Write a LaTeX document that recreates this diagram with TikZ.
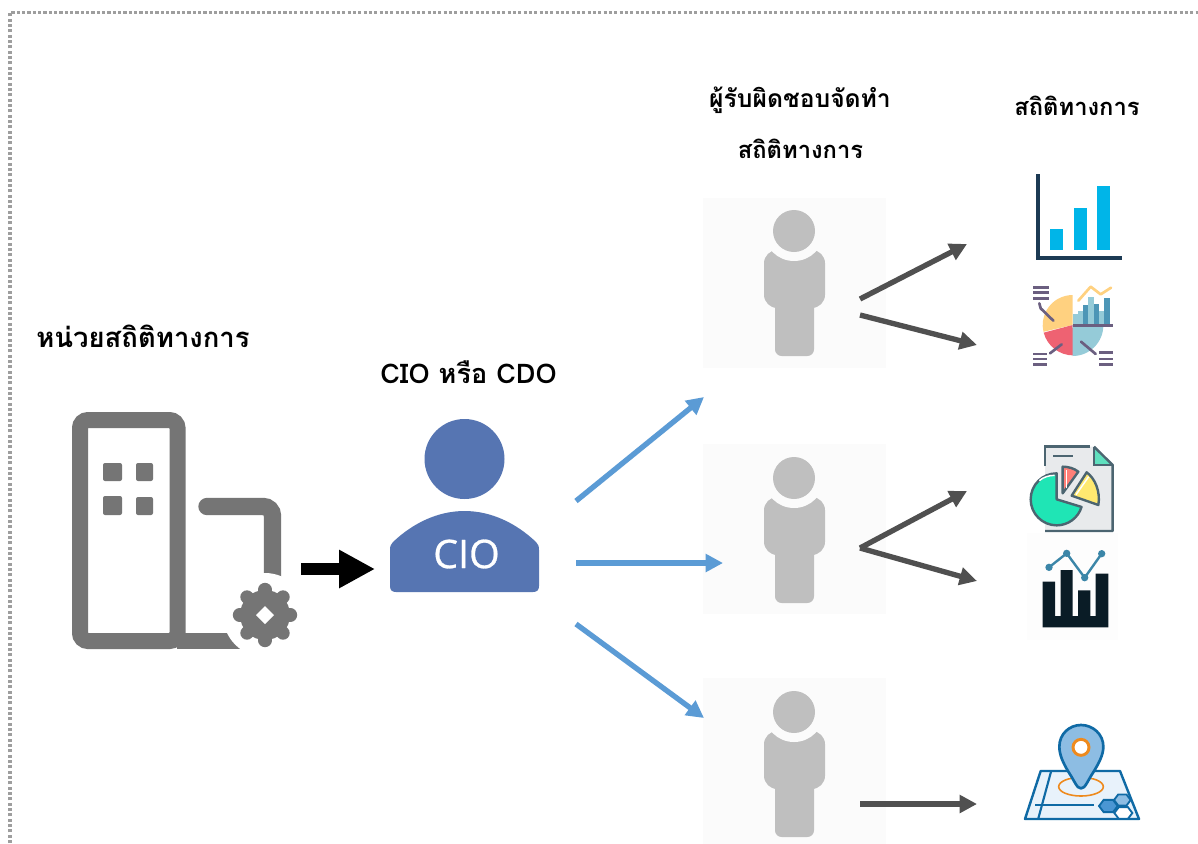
\documentclass[tikz,border=0pt]{standalone}
\usepackage{fontspec}
\setmainfont{Liberation Sans}
\newfontfamily\thaifont[Script=Thai]{Loma}
\newfontfamily\ciofont[FakeBold=0.7]{Open Sans}
\usetikzlibrary{arrows.meta}
\definecolor{gbar}{HTML}{757575}
\definecolor{ciob}{HTML}{5675B2}
\definecolor{pgray}{HTML}{BFBFBF}
\definecolor{pbg}{HTML}{FBFBFB}
\definecolor{bluea}{HTML}{5B9BD5}
\definecolor{darka}{HTML}{505050}
\definecolor{navy}{HTML}{1C3A54}
\definecolor{cyanb}{HTML}{00B5E8}
\definecolor{porange}{HTML}{FFD180}
\definecolor{pred}{HTML}{EE6272}
\definecolor{pblue}{HTML}{95CBD8}
\definecolor{pdeep}{HTML}{4D96B6}
\definecolor{ppurple}{HTML}{6B5F80}
\definecolor{dstroke}{HTML}{4C6571}
\definecolor{dpaper}{HTML}{E8EAEC}
\definecolor{dgreen}{HTML}{1FE5B5}
\definecolor{dfold}{HTML}{5FE0BE}
\definecolor{dred}{HTML}{FF7F78}
\definecolor{dyellow}{HTML}{FFE970}
\definecolor{bink}{HTML}{0A1C26}
\definecolor{bline}{HTML}{3B86A8}
\definecolor{mapline}{HTML}{0F6AA5}
\definecolor{mapfill}{HTML}{E8F2FB}
\definecolor{pinfill}{HTML}{8DBDE3}
\definecolor{hexa}{HTML}{4A96D3}
\definecolor{ringo}{HTML}{EE8A1D}
\tikzset{
  thailabel/.style={font=\thaifont\bfseries\fontsize{#1}{24pt}\selectfont,inner sep=0pt,anchor=center},
  bluearrow/.style={draw=bluea,line width=4pt,-{Triangle[length=13pt,width=13pt]}},
  darkarrow/.style={draw=darka,line width=4pt,-{Triangle[length=13pt,width=13pt]}},
  blockarrow/.style={draw=black,line width=9pt,-{Triangle[length=27pt,width=27pt]}},
  personbg/.style={fill=pbg,draw=none,inner sep=0pt,minimum width=137.25pt,minimum height=127.5pt},
  iconline/.style={line cap=round,line join=round}
}
\newcommand{\personfig}[1]{%
  \begin{scope}[shift={(0,#1)}]
    \fill[pgray,rounded corners=10pt] (764,250) rectangle (825,308);
    \fill[pgray,rounded corners=5pt] (775,290) rectangle (814,356);
    \fill[pbg] (794,231) circle[radius=30];
    \fill[pgray] (794,231) circle[radius=21];
  \end{scope}}
\newcommand{\hexshape}[3]{({#1-#3},#2) -- ({#1-#3/2},{#2-#3*.66}) -- ({#1+#3/2},{#2-#3*.66}) -- ({#1+#3},#2) -- ({#1+#3/2},{#2+#3*.66}) -- ({#1-#3/2},{#2+#3*.66}) -- cycle}
\begin{document}
\begin{tikzpicture}[x=.75pt,y=-.75pt]
\useasboundingbox (0,0) rectangle (1198,843);
\clip (0,0) rectangle (1198,843);
\fill[white] (0,0) rectangle (1198,843);
% dotted frame
\coordinate (fa) at (10,843);
\coordinate (fb) at (10,12.5);
\coordinate (fc) at (1198,12.5);
\draw[color=black!38,line width=2.4pt,dash pattern=on 2.3pt off 1.7pt] (fa) -- (fb) -- (fc);
% labels
\node[thailabel=20.6pt] (lagency) at (143,336) {หน่วยสถิติทางการ};
\node[thailabel=20.3pt] (lcio) at (468.5,372) {CIO หรือ CDO};
\node[thailabel=18.5pt] (lresp1) at (800,100) {ผู้รับผิดชอบจัดทำ};
\node[thailabel=17.8pt] (lresp2) at (800.5,149) {สถิติทางการ};
\node[thailabel=17.8pt] (lstats) at (1077,106) {สถิติทางการ};
% building
\draw[gbar,line width=12pt,rounded corners=6pt] (80,420) rectangle (177.5,641);
\draw[gbar,line width=12pt] (177,641) -- (245,641);
\draw[gbar,line width=13pt,line cap=round,rounded corners=7pt] (207,506.5) -- (272.5,506.5) -- (272.5,590);
\fill[gbar,rounded corners=1.5pt] (103,463) rectangle (122,481);
\fill[gbar,rounded corners=1.5pt] (136,463) rectangle (153,481);
\fill[gbar,rounded corners=1.5pt] (103,496) rectangle (122,515);
\fill[gbar,rounded corners=1.5pt] (136,497) rectangle (153,515);
\fill[white] (265,615) circle[radius=42];
\fill[gbar] (265,615) circle[radius=25];
\foreach \a in {0,45,...,315} \draw[gbar,line width=10pt,line cap=round] (265,615) -- ++(\a:25.5);
\fill[white] (265,606) -- (274,615) -- (265,624) -- (256,615) -- cycle;
% CIO person
\fill[ciob] (464.5,459) circle[radius=40];
\fill[ciob] (396,592) .. controls (392,592) and (390,590) .. (390,586) -- (390,550) .. controls (390,546) and (391,544) .. (393,542) .. controls (413,523) and (438,511) .. (464.5,511) .. controls (491,511) and (516,523) .. (536,542) .. controls (538,544) and (539,546) .. (539,550) -- (539,586) .. controls (539,590) and (537,592) .. (533,592) -- cycle;
\node[text=white,font=\ciofont\fontsize{29.5pt}{32pt}\selectfont,inner sep=0pt] (ciotxt) at (466.5,554) {CIO};
% staff
\node[personbg] (p1) at (794.5,282.5) {};
\node[personbg] (p2) at (794.5,529) {};
\node[personbg] (p3) at (794.5,763) {};
\personfig{0}
\personfig{247}
\personfig{481}
% connectors
\coordinate (bs) at (301,569); \coordinate (be) at (375,569);
\draw[blockarrow] (bs) -- (be);
\coordinate (c0) at (576,501); \coordinate (c1) at (704,397);
\coordinate (c2) at (576,563); \coordinate (c3) at (723,563);
\coordinate (c4) at (576,624); \coordinate (c5) at (704,718);
\draw[bluearrow] (c0) -- (c1);
\draw[bluearrow] (c2) -- (c3);
\draw[bluearrow] (c4) -- (c5);
\coordinate (d0) at (860,299); \coordinate (d1) at (967,244);
\coordinate (d2) at (860,315); \coordinate (d3) at (977,345);
\coordinate (d4) at (860,548); \coordinate (d5) at (967,491);
\coordinate (d6) at (860,548); \coordinate (d7) at (977,581);
\coordinate (d8) at (860,804); \coordinate (d9) at (977,804);
\draw[darkarrow] (d0) -- (d1);
\draw[darkarrow] (d2) -- (d3);
\draw[darkarrow] (d4) -- (d5);
\draw[darkarrow] (d6) -- (d7);
\draw[darkarrow] (d8) -- (d9);
% icon 1: bars
\fill[navy] (1036,174) rectangle (1040,260);
\fill[navy] (1036,255.5) rectangle (1122,260);
\fill[cyanb] (1050,229) rectangle (1063,250);
\fill[cyanb] (1074,208) rectangle (1087,250);
\fill[cyanb] (1097,186) rectangle (1110,250);
% icon 2: pie and bars
\begin{scope}[shift={(1000,160)},x=.25pt,y=-.25pt]
  \fill[porange] (218,495) -- (218,405) arc[start angle=270,end angle=167,radius=90] -- cycle;
  \fill[pred] (218,495) -- (131,518) arc[start angle=165,end angle=90,radius=92] -- cycle;
  \fill[pblue] (218,495) -- (218,588) arc[start angle=90,end angle=0,radius=92] -- cycle;
  \fill[pblue] (220,462) rectangle (235,495);
  \fill[pblue] (235,452) rectangle (250,495);
  \fill[pdeep] (250,436) rectangle (265,495);
  \fill[pblue] (265,412) rectangle (282,495);
  \fill[pdeep] (282,432) rectangle (297,495);
  \fill[pblue] (297,452) rectangle (312,495);
  \fill[pdeep] (313,414) rectangle (330,495);
  \draw[porange,line width=2pt,iconline] (235,422) -- (272,380) -- (302,403) -- (333,383);
  \draw[ppurple,line width=2pt] (218,497) -- (338,497);
  \draw[ppurple,line width=2pt] (100,382) -- (148,382) (100,398) -- (148,398) (100,415) -- (148,415);
  \draw[ppurple,line width=2pt] (100,582) -- (140,582) (100,597) -- (140,597) (100,613) -- (140,613);
  \draw[ppurple,line width=2pt] (298,578) -- (338,578) (298,597) -- (338,597) (298,613) -- (338,613);
  \draw[ppurple,line width=2pt,iconline] (118,430) -- (122,445) -- (160,482);
  \draw[ppurple,line width=2pt,iconline] (150,580) -- (185,553);
  \draw[ppurple,line width=2pt,iconline] (243,545) -- (287,582);
\end{scope}
% icon 3: document with pie
\begin{scope}[shift={(1000,430)},x=.25pt,y=-.25pt]
  \fill[dpaper] (135,50) -- (282,50) -- (338,105) -- (338,303) -- (135,303) -- cycle;
  \fill[dfold] (282,50) -- (338,105) -- (282,105) -- cycle;
  \draw[dstroke,line width=1.8pt] (135,108) -- (135,50) -- (270,50);
  \draw[dstroke,line width=1.8pt,line join=round] (282,50) -- (338,105) -- (338,303) -- (135,303);
  \draw[dstroke,line width=1.8pt] (282,50) -- (282,105) -- (338,105);
  \draw[dstroke,line width=1.4pt] (160,78) -- (218,78);
  \filldraw[fill=dgreen,draw=dstroke,line width=1.8pt,line join=round] (170,208) -- (170,130) arc[start angle=-90,end angle=-270,radius=78] arc[start angle=90,end angle=17,radius=78] -- cycle;
  \draw[white,line width=1.1pt] (118,152) .. controls (130,141) and (148,136) .. (164,136);
  \filldraw[fill=dred,draw=dstroke,line width=1.8pt,line join=round] (188,190) -- (188,110) .. controls (205,110) and (222,115) .. (235,125) -- cycle;
  \draw[white,line width=1.1pt] (199,175) -- (199,120);
  \filldraw[fill=dyellow,draw=dstroke,line width=1.8pt,line join=round] (215,197) -- (260,127) .. controls (285,145) and (302,185) .. (295,225) -- cycle;
  \draw[white,line width=1.1pt] (228,194) -- (266,140);
  % icon 4: bars with line
  \fill[white!50!pbg] (80,310) rectangle (355,630);
  \fill[bink] (128,455) -- (165,455) -- (165,558) -- (182,558) -- (182,420) -- (218,420) -- (218,558) -- (234,558) -- (234,481) -- (271,481) -- (271,558) -- (287,558) -- (287,431) -- (325,431) -- (325,592) -- (128,592) -- cycle;
  \draw[bline,line width=1.8pt] (147,412) -- (200,370) -- (254,443) -- (305,371);
  \foreach \px/\py in {147/412,200/370,254/443,305/371} \fill[bline] (\px,\py) circle[radius=11];
\end{scope}
% icon 5: map pin
\begin{scope}[shift={(1000,710)},x=.25pt,y=-.25pt]
  \fill[mapfill] (122,183) -- (360,183) -- (417,327) -- (75,327) -- cycle;
  \draw[mapline,line width=1.6pt] (153,185) -- (115,325);
  \draw[mapline,line width=1.6pt] (105,285) -- (283,285);
  \filldraw[fill=white,draw=mapline,line width=1.4pt] \hexshape{370}{309}{27};
  \filldraw[fill=pinfill,draw=mapline,line width=1.4pt] \hexshape{367}{270}{25};
  \filldraw[fill=hexa,draw=mapline,line width=1.4pt] \hexshape{325}{288}{28};
  \draw[mapline,line width=1.8pt,line join=round] (122,183) -- (360,183) -- (417,327) -- (75,327) -- cycle;
  \draw[ringo,line width=1.2pt] (243,230) ellipse[x radius=67,y radius=28];
  \fill[mapfill] (205,190) rectangle (281,205);
  \draw[mapline,line width=1.8pt,line join=round] (122,183) -- (360,183);
  \filldraw[fill=pinfill,draw=mapline,line width=2pt,line join=round] (243,235) .. controls (230,235) and (225,215) .. (205,185) .. controls (190,160) and (178,135) .. (178,110) .. controls (178,72) and (208,45) .. (243,45) .. controls (278,45) and (310,72) .. (310,110) .. controls (310,135) and (296,160) .. (281,185) .. controls (261,215) and (256,235) .. (243,235) -- cycle;
  \filldraw[fill=white,draw=ringo,line width=2.2pt] (243,112) circle[radius=24];
\end{scope}
\end{tikzpicture}
\end{document}
